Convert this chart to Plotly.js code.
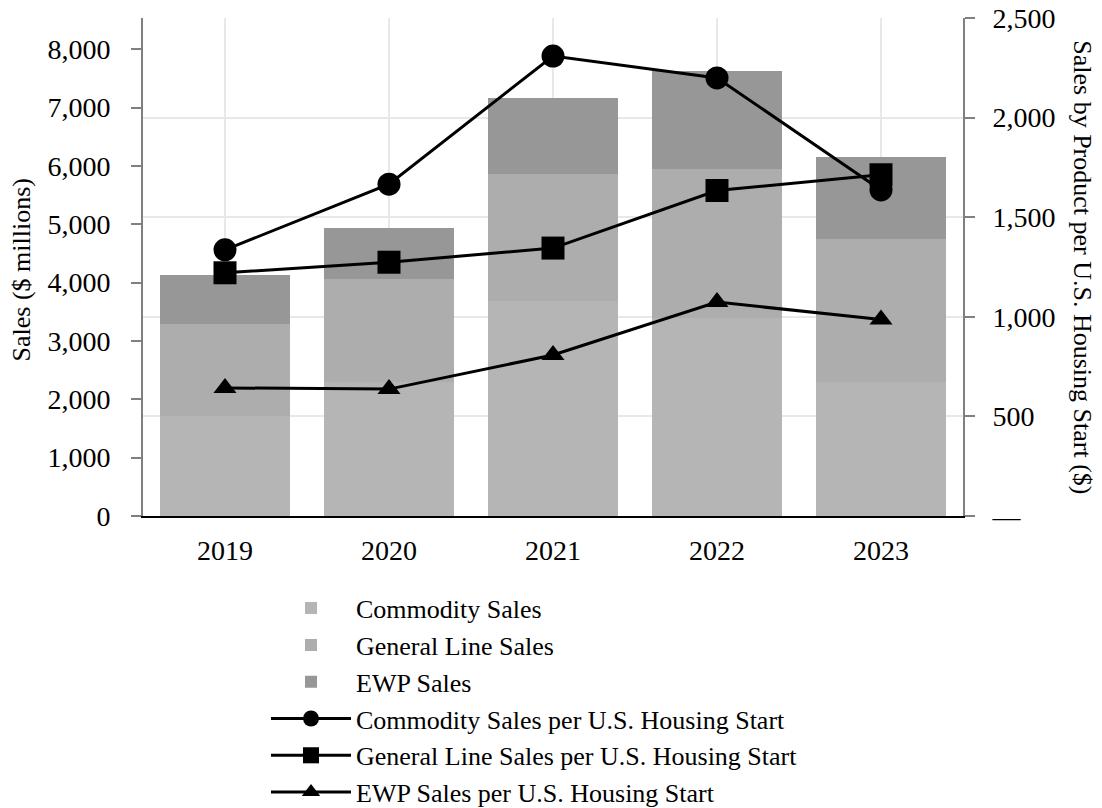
<!DOCTYPE html>
<html>
<head>
<meta charset="utf-8">
<script src="https://cdn.plot.ly/plotly-3.0.1.min.js"></script>
<style>html,body{margin:0;padding:0;background:#fff;}#chart{width:1102px;height:808px;}</style>
</head>
<body>
<div id="chart"></div>
<script>
const years = ['2019', '2020', '2021', '2022', '2023'];
const commoditySales = [1706, 2302, 3690, 3401, 2302];
const generalLineSales = [1591, 1764, 2169, 2545, 2446];
const ewpSales = [833, 867, 1301, 1677, 1406];
const commodityPerStart = [1336, 1666, 2309, 2199, 1637];
const generalLinePerStart = [1221, 1274, 1345, 1634, 1713];
const ewpPerStart = [643, 637, 808, 1074, 986];
const leftTickVals = [0, 1000, 2000, 3000, 4000, 5000, 6000, 7000, 8000];
const rightTickVals = [0, 500, 1000, 1500, 2000, 2500];
const rightTickText = ['—', '500', '1,000', '1,500', '2,000', '2,500'];

const FONT = '"Liberation Serif", serif';
const TICK_FS = 28;
const TITLE_FS = 26;
const LEGEND_FS = 26;

const traces = [
  {type: 'bar', name: 'Commodity Sales', x: years, y: commoditySales, marker: {color: '#b5b5b5'}},
  {type: 'bar', name: 'General Line Sales', x: years, y: generalLineSales, marker: {color: '#adadad'}},
  {type: 'bar', name: 'EWP Sales', x: years, y: ewpSales, marker: {color: '#979797'}},
  {type: 'scatter', mode: 'lines+markers', name: 'Commodity Sales per U.S. Housing Start', x: years, y: commodityPerStart, yaxis: 'y2',
   line: {color: '#000', width: 3}, marker: {symbol: 'circle', size: 23, color: '#000'}},
  {type: 'scatter', mode: 'lines+markers', name: 'General Line Sales per U.S. Housing Start', x: years, y: generalLinePerStart, yaxis: 'y2',
   line: {color: '#000', width: 3}, marker: {symbol: 'square', size: 23, color: '#000'}},
  {type: 'scatter', mode: 'lines+markers', name: 'EWP Sales per U.S. Housing Start', x: years, y: ewpPerStart, yaxis: 'y2',
   line: {color: '#000', width: 3}, marker: {symbol: 'triangle-up', size: 20, color: '#000'}}
];

const tickFont = {family: FONT, size: TICK_FS, color: '#000'};
const titleFont = {family: FONT, size: TITLE_FS, color: '#000'};

const layout = {
  width: 1102, height: 808,
  margin: {l: 143, r: 139, t: 18, b: 292, autoexpand: false},
  paper_bgcolor: '#fff', plot_bgcolor: '#fff',
  font: {family: FONT, size: TICK_FS, color: '#000'},
  barmode: 'stack', bargap: 0.21,
  showlegend: true,
  legend: {x: 0.15, xanchor: 'left', y: -0.138, yanchor: 'top', orientation: 'v', traceorder: 'normal',
           font: {family: FONT, size: LEGEND_FS, color: '#000'}, itemwidth: 80, bgcolor: 'rgba(0,0,0,0)'},
  xaxis: {type: 'category', showgrid: true, gridcolor: '#e8e8e8', gridwidth: 2,
          showline: true, linecolor: '#000', linewidth: 2, ticks: '', ticklabelstandoff: 8,
          tickfont: tickFont, zeroline: false, fixedrange: true},
  yaxis: {range: [0, 8535], tickvals: leftTickVals, tickformat: ',d',
          showgrid: false, zeroline: false, showline: true, linecolor: '#808080', linewidth: 2,
          ticks: 'outside', ticklen: 10, tickwidth: 2, tickcolor: '#808080', ticklabelstandoff: 15,
          tickfont: tickFont},
  yaxis2: {overlaying: 'y', side: 'right', range: [0, 2500], tickvals: rightTickVals, ticktext: rightTickText,
           showgrid: true, gridcolor: '#e8e8e8', gridwidth: 2, zeroline: false,
           showline: true, linecolor: '#808080', linewidth: 2,
           ticks: 'outside', ticklen: 10, tickwidth: 2, tickcolor: '#808080', ticklabelstandoff: 12,
           tickfont: tickFont},
  annotations: [
    {text: 'Sales ($ millions)', xref: 'paper', yref: 'paper', x: -0.1476, y: 0.495, textangle: -90,
     showarrow: false, xanchor: 'center', yanchor: 'middle', font: titleFont},
    {text: 'Sales by Product per U.S. Housing Start ($)', xref: 'paper', yref: 'paper', x: 1.146, y: 0.5, textangle: 90,
     showarrow: false, xanchor: 'center', yanchor: 'middle', font: titleFont}
  ]
};

Plotly.newPlot('chart', traces, layout, {displayModeBar: false, staticPlot: true});
</script>
</body>
</html>
